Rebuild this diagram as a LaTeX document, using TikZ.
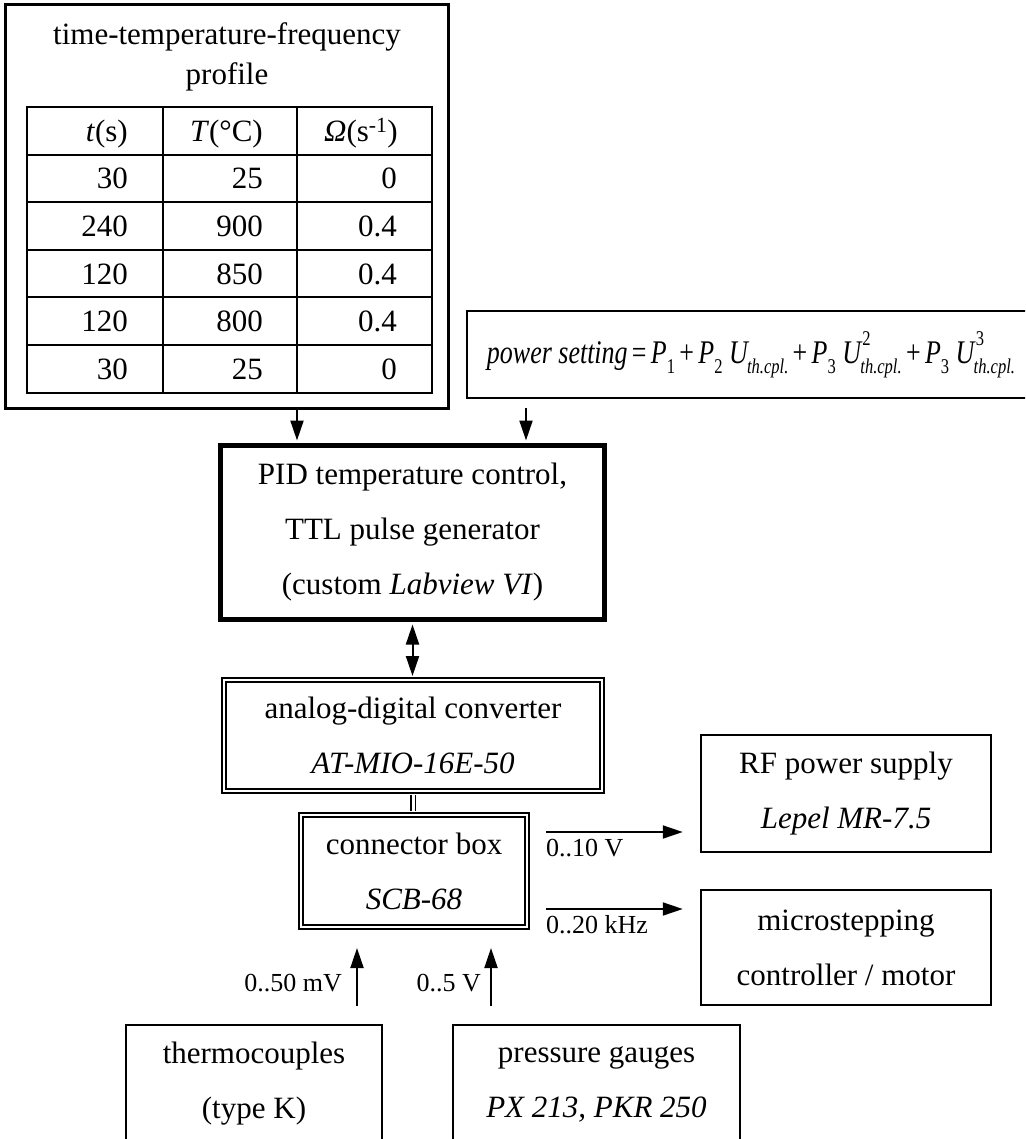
\documentclass[tikz,border=0pt]{standalone}
\usepackage{fontspec}
\setmainfont{Liberation Serif}
\usepackage{graphicx}
\usetikzlibrary{arrows.meta}

\newcommand\mainsz{\fontsize{31}{55}\selectfont}
\newcommand\lblsz{\fontsize{26}{30}\selectfont}
\newcommand\lo[1]{\raisebox{-0.3em}{\fontsize{21}{21}\selectfont #1}}
\newcommand\Uth[1]{\textit{U}\rlap{\raisebox{0.55em}{\fontsize{21}{21}\selectfont #1}}\kern-0.08em\lo{\textit{th.cpl.}}}
\newcommand\formula{{\fontsize{33}{34}\selectfont\textit{power setting}\,=\,\textit{P}\lo{1}\,+\,\textit{P}\lo{2}\ \Uth{}\,+\,\textit{P}\lo{3}\ \Uth{2}\,+\,\textit{P}\lo{3}\ \Uth{3}}}

\begin{document}
\begin{tikzpicture}[x=1pt,y=-1pt,
  box/.style={draw, line width=2.5pt, align=center, font=\mainsz, inner sep=0pt},
  thickbox/.style={box, line width=5pt},
  dblbox/.style={box, double, line width=2pt, double distance=2.5pt},
  arr/.style={line width=2pt, -{Triangle[length=20pt,width=13pt]}},
  darr/.style={line width=2pt, {Triangle[length=20pt,width=13pt]}-{Triangle[length=20pt,width=13pt]}},
  lbl/.style={font=\lblsz, inner sep=0pt},
  cell/.style={font=\mainsz, inner sep=0pt, anchor=base east},
  gridline/.style={line width=1.8pt}
]
\useasboundingbox (0,0) rectangle (1025,1139);
\clip (0,0) rectangle (1025,1139);

% profile box with table
\node[box, line width=3pt, minimum width=443pt, minimum height=403pt] (prof) at (226.5,206.5) {};
\node[font=\fontsize{31}{40}\selectfont, align=center, inner sep=0pt] (title) at (227,57) {time-temperature-frequency\\profile};
\draw[gridline] (27,107) rectangle (432,393);
\foreach \y in {155,202,250,297,345} \draw[gridline] (27,\y) -- (432,\y);
\foreach \x in {163,297} \draw[gridline] (\x,107) -- (\x,393);
\node[cell] (ht) at (128,142) {\textit{t}(s)};
\node[cell] (hT) at (263,142) {\textit{T}(°C)};
\node[cell] (hO) at (398,142) {\textit{Ω}(s\textsuperscript{-1})};
\foreach \a/\b/\c/\yc [count=\i] in {30/25/0/178.5, 240/900/0.4/226, 120/850/0.4/273.5, 120/800/0.4/321, 30/25/0/369} {
  \node[cell] (r\i a) at (128,{\yc+10.5}) {\a};
  \node[cell] (r\i b) at (263,{\yc+10.5}) {\b};
  \node[cell] (r\i c) at (397,{\yc+10.5}) {\c};
}

% formula box
\node[box, minimum width=568pt, minimum height=87pt] (form) at (751,354.5) {\resizebox{528pt}{\height}{\formula}};

% PID
\node[thickbox, minimum width=384pt, minimum height=174pt] (pid) at (412.5,532.5)
  {PID temperature control,\\TTL pulse generator\\(custom \textit{Labview VI})};

% ADC
\node[dblbox, minimum width=378pt, minimum height=111pt] (adc) at (413,735.5)
  {analog-digital converter\\\textit{AT-MIO-16E-50}};

% connector box
\node[dblbox, minimum width=226pt, minimum height=112pt] (cb) at (414,871)
  {connector box\\\textit{SCB-68}};

% right boxes
\node[box, minimum width=290pt, minimum height=117pt] (rf) at (846,793.5)
  {RF power supply\\\textit{Lepel MR-7.5}};
\node[box, minimum width=290pt, minimum height=115pt] (micro) at (846,947.5)
  {microstepping\\controller / motor};

% bottom boxes (cut by page edge)
\node[box, minimum width=256pt, minimum height=118pt] (thermo) at (254,1084)
  {thermocouples\\(type K)};
\node[box, minimum width=287pt, minimum height=118pt] (press) at (596.5,1084)
  {pressure gauges\\\textit{PX 213, PKR 250}};

% connectors
\coordinate (xa) at (297,0);
\coordinate (xb) at (526,0);
\draw[arr, shorten >=2.5pt] (prof.south -| xa) -- (pid.north -| xa);
\draw[arr, shorten <=9pt, shorten >=2.5pt] (form.south -| xb) -- (pid.north -| xb);
\draw[darr, shorten <=2.5pt, shorten >=3pt] (pid.south) -- (pid.south |- adc.north);
\draw[double, line width=1.8pt, double distance=3pt, shorten <=3pt, shorten >=3pt] (adc.south) -- (adc.south |- cb.north);

\coordinate (ya) at (0,832);
\coordinate (yb) at (0,909);
\draw[arr, shorten <=18pt, shorten >=17pt] (cb.east |- ya) -- (rf.west |- ya);
\draw[arr, shorten <=18pt, shorten >=17pt] (cb.east |- yb) -- (micro.west |- yb);
\node[lbl, anchor=west] (l10) at (546,848) {0..10 V};
\node[lbl, anchor=west] (l20) at (546,925) {0..20 kHz};

\coordinate (xc) at (357,0);
\coordinate (xd) at (491,0);
\draw[arr, shorten <=18pt, shorten >=20pt] (thermo.north -| xc) -- (cb.south -| xc);
\draw[arr, shorten <=18pt, shorten >=20pt] (press.north -| xd) -- (cb.south -| xd);
\node[lbl, anchor=east] (l50) at (342,983) {0..50 mV};
\node[lbl, anchor=east] (l5) at (481,983) {0..5 V};
\end{tikzpicture}
\end{document}
